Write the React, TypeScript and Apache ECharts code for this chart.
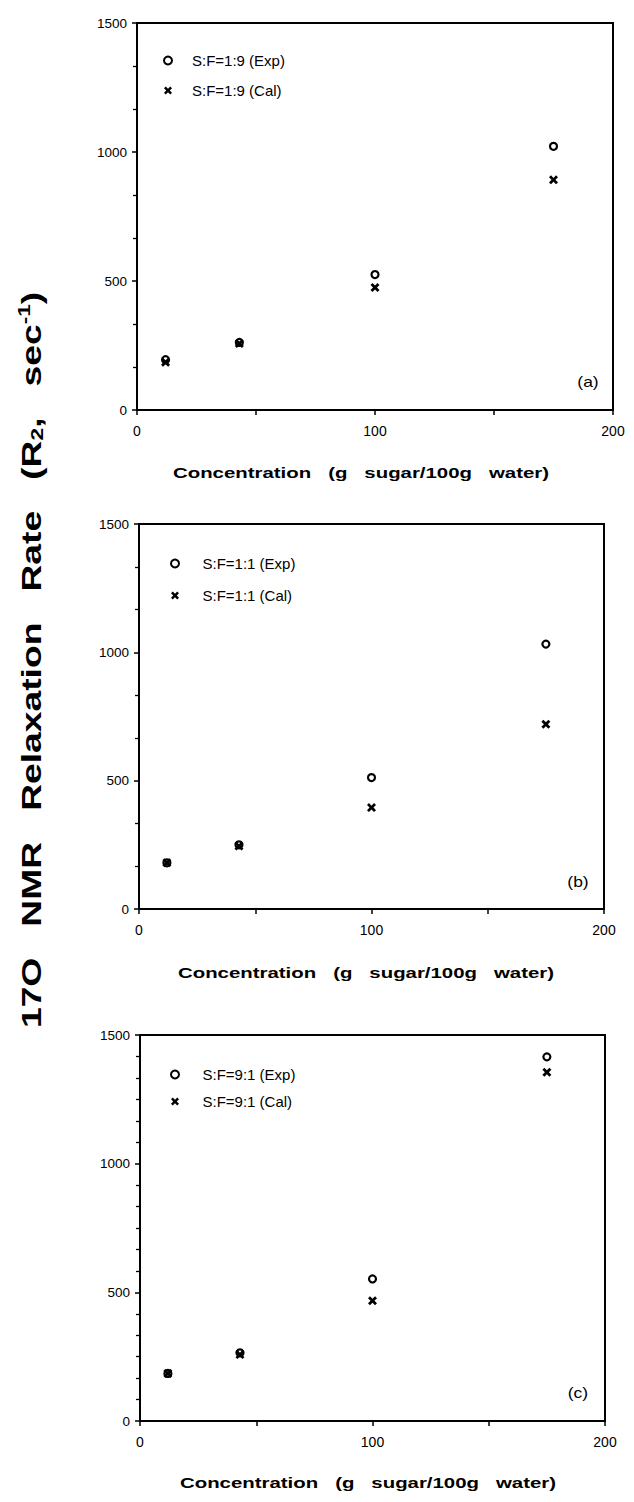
import React, { useEffect, useRef } from "react";
import * as echarts from "echarts";

// ---- data ----
const concentration = [12, 43, 100, 175];
const expA = [195, 262, 525, 1022];
const calA = [185, 258, 475, 892];
const expB = [180, 250, 512, 1032];
const calB = [180, 245, 395, 720];
const expC = [185, 265, 552, 1415];
const calC = [185, 258, 467, 1355];
const legendA = ["S:F=1:9 (Exp)", "S:F=1:9 (Cal)"];
const legendB = ["S:F=1:1 (Exp)", "S:F=1:1 (Cal)"];
const legendC = ["S:F=9:1 (Exp)", "S:F=9:1 (Cal)"];
const panelLabels = ["(a)", "(b)", "(c)"];
const xTickLabels = [0, 100, 200];
const yTickLabels = [0, 500, 1000, 1500];
const xTitle = "Concentration   (g   sugar/100g   water)";

const FONT = "'Liberation Sans', Arial, Helvetica, sans-serif";
const crossPath =
  "path://M0,2.2L2.2,0L5,2.8L7.8,0L10,2.2L7.2,5L10,7.8L7.8,10L5,7.2L2.2,10L0,7.8L2.8,5Z";

const panels = [
  {
    exp: expA, cal: calA, names: legendA, label: panelLabels[0],
    grid: { left: 137, top: 23, width: 476, height: 387 },
    minorSplit: 3,
    legend: { left: 158, top: 48, itemWidth: 38, itemGap: 15 },
    labelPos: [588, 382], titlePos: [361, 473],
  },
  {
    exp: expB, cal: calB, names: legendB, label: panelLabels[1],
    grid: { left: 139, top: 524, width: 465, height: 385 },
    minorSplit: 3,
    legend: { left: 165, top: 551, itemWidth: 45, itemGap: 17 },
    labelPos: [578, 882], titlePos: [366, 973],
  },
  {
    exp: expC, cal: calC, names: legendC, label: panelLabels[2],
    grid: { left: 140, top: 1035, width: 465, height: 386 },
    minorSplit: 6,
    legend: { left: 165, top: 1062, itemWidth: 45, itemGap: 12 },
    labelPos: [578, 1393], titlePos: [368, 1483],
  },
];

export default function App() {
  const ref = useRef<HTMLDivElement>(null);
  useEffect(() => {
    if (!ref.current) return;
    const chart = echarts.init(ref.current, null, { renderer: "svg" });
    const black = "#000";
    const option: any = {
      animation: false,
      backgroundColor: "#fff",
      grid: panels.map((p) => ({
        ...p.grid,
        show: true,
        borderColor: black,
        borderWidth: 2,
        backgroundColor: "transparent",
      })),
      xAxis: panels.map((p, i) => ({
        type: "value",
        gridIndex: i,
        min: 0,
        max: 200,
        interval: 50,
        axisLine: { onZero: false, lineStyle: { color: black, width: 2 } },
        axisTick: { length: 5, lineStyle: { color: black, width: 1.5 } },
        axisLabel: {
          color: black,
          fontSize: 14,
          fontFamily: FONT,
          margin: 14,
          formatter: (v: number) => (xTickLabels.indexOf(v) >= 0 ? String(v) : ""),
        },
        splitLine: { show: false },
      })),
      yAxis: panels.map((p, i) => ({
        type: "value",
        gridIndex: i,
        min: 0,
        max: 1500,
        interval: 500,
        axisLine: { onZero: false, lineStyle: { color: black, width: 2 } },
        axisTick: { length: 5, lineStyle: { color: black, width: 1.5 } },
        minorTick: { show: true, splitNumber: p.minorSplit, length: 4, lineStyle: { color: black, width: 1.3 } },
        axisLabel: {
          color: black,
          fontSize: 13.5,
          fontFamily: FONT,
          margin: 10,
          formatter: (v: number) => (yTickLabels.indexOf(v) >= 0 ? String(v) : ""),
        },
        splitLine: { show: false },
        minorSplitLine: { show: false },
      })),
      legend: panels.map((p) => ({
        orient: "vertical",
        left: p.legend.left,
        top: p.legend.top,
        itemWidth: p.legend.itemWidth,
        itemHeight: 8,
        itemGap: p.legend.itemGap,
        selectedMode: false,
        textStyle: { color: black, fontSize: 15, fontFamily: FONT },
        data: [
          { name: p.names[0], icon: "circle", itemStyle: { color: "rgba(0,0,0,0)", borderColor: black, borderWidth: 2 } },
          { name: p.names[1], icon: crossPath, itemStyle: { color: black, borderWidth: 0 } },
        ],
      })),
      series: panels.flatMap((p, i) => [
        {
          type: "scatter",
          name: p.names[0],
          xAxisIndex: i,
          yAxisIndex: i,
          symbol: "circle",
          symbolSize: 7,
          itemStyle: { color: "rgba(0,0,0,0)", borderColor: black, borderWidth: 2.2, opacity: 1 },
          data: concentration.map((c, k) => [c, p.exp[k]]),
        },
        {
          type: "scatter",
          name: p.names[1],
          xAxisIndex: i,
          yAxisIndex: i,
          symbol: crossPath,
          symbolSize: 9,
          itemStyle: { color: black, opacity: 1 },
          data: concentration.map((c, k) => [c, p.cal[k]]),
        },
      ]),
      graphic: [
        ...panels.map((p) => ({
          type: "text",
          x: p.labelPos[0],
          y: p.labelPos[1],
          scaleX: 1.25,
          style: { text: p.label, fill: black, fontSize: 14, fontFamily: FONT, align: "center", verticalAlign: "middle" },
        })),
        ...panels.map((p) => ({
          type: "text",
          x: p.titlePos[0],
          y: p.titlePos[1],
          scaleX: 1.36,
          style: {
            text: xTitle,
            fill: black,
            fontSize: 15,
            fontWeight: "bold",
            fontFamily: FONT,
            align: "center",
            verticalAlign: "middle",
          },
        })),
        {
          type: "text",
          x: 31,
          y: 660,
          rotation: Math.PI / 2,
          scaleX: 1.33,
          style: {
            text: "17O   NMR   Relaxation   Rate   (R{sub|2},   sec{sup|-1})",
            fill: black,
            fontSize: 28,
            fontWeight: "bold",
            fontFamily: FONT,
            align: "center",
            verticalAlign: "middle",
            rich: {
              sub: { fontSize: 17, fontWeight: "bold", fontFamily: FONT, fill: black, padding: [13, 0, 0, 0] },
              sup: { fontSize: 17, fontWeight: "bold", fontFamily: FONT, fill: black, padding: [0, 0, 13, 0] },
            },
          },
        },
      ],
    };
    chart.setOption(option);
    return () => chart.dispose();
  }, []);
  return (
    <div
      ref={ref}
      style={{ position: "fixed", left: 0, top: 0, width: 634, height: 1502, background: "#fff" }}
    />
  );
}
